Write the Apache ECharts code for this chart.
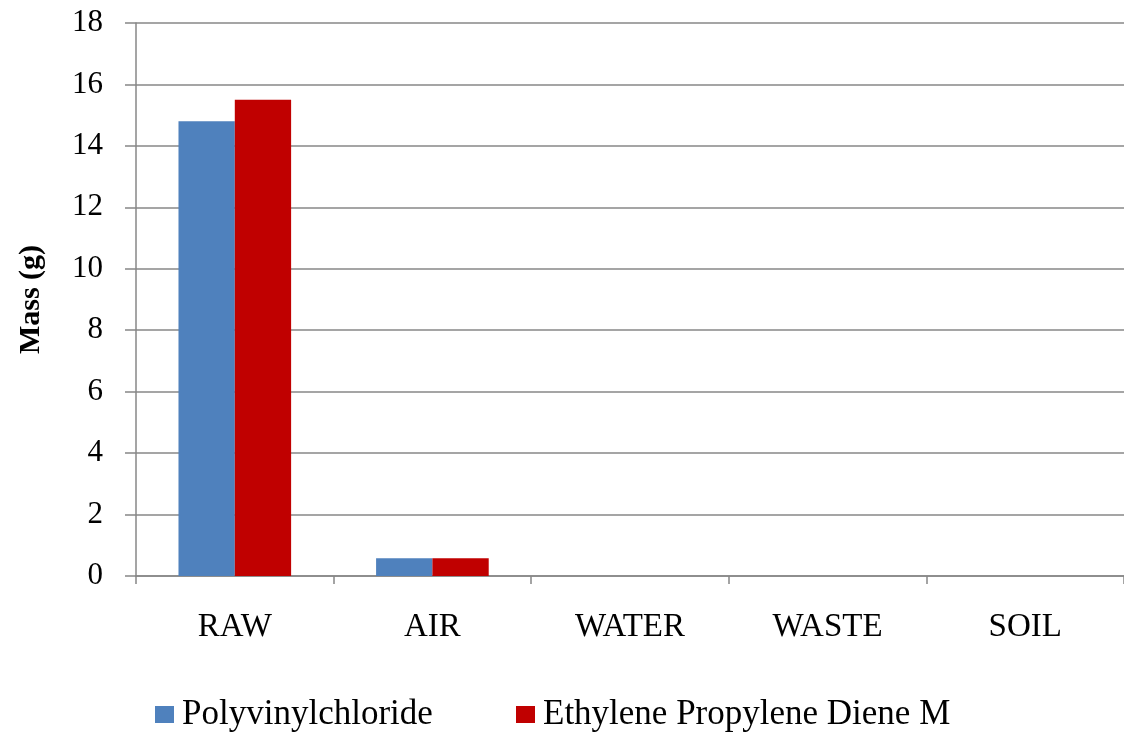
<!DOCTYPE html>
<html><head><meta charset="utf-8">
<script src="https://cdn.jsdelivr.net/npm/echarts@6/dist/echarts.min.js"></script>
<style>html,body{margin:0;padding:0;background:#fff}#c{width:1124px;height:734px}</style>
</head><body><div id="c"></div>
<script>
const categories = ['RAW', 'AIR', 'WATER', 'WASTE', 'SOIL'];
const pvc = [14.8, 0.58, 0, 0, 0];
const epdm = [15.5, 0.58, 0, 0, 0];
const seriesNames = ['Polyvinylchloride', 'Ethylene Propylene Diene M'];
const yTicks = { min: 0, max: 18, interval: 2 };

const font = 'Liberation Serif, Times New Roman, serif';
const legendBase = {
  top: 697, padding: 0, itemWidth: 19, itemHeight: 17, icon: 'rect',
  textStyle: { fontFamily: font, fontSize: 35, color: '#000', padding: [0, 0, 0, 3] }
};
const chart = echarts.init(document.getElementById('c'));
chart.setOption({
  animation: false,
  grid: { left: 136, right: 0, top: 23, bottom: 158, containLabel: false },
  legend: [
    Object.assign({ left: 155, data: [seriesNames[0]] }, legendBase),
    Object.assign({ left: 516, data: [seriesNames[1]] }, legendBase)
  ],
  xAxis: {
    type: 'category', data: categories,
    axisLine: { lineStyle: { color: '#878787', width: 1.5 } },
    axisTick: { show: true, length: 8, lineStyle: { color: '#878787', width: 1.5 } },
    axisLabel: { fontFamily: font, fontSize: 33, color: '#000', margin: 35 }
  },
  yAxis: {
    type: 'value', min: yTicks.min, max: yTicks.max, interval: yTicks.interval,
    name: 'Mass (g)', nameLocation: 'middle', nameGap: 90, nameRotate: 90,
    nameTextStyle: { fontFamily: font, fontSize: 30, fontWeight: 'bold', color: '#000' },
    axisLine: { show: true, lineStyle: { color: '#878787', width: 1.5 } },
    axisTick: { show: true, inside: false, length: 11, lineStyle: { color: '#878787', width: 1.5 } },
    splitLine: { lineStyle: { color: '#878787', width: 1.5 } },
    axisLabel: { fontFamily: font, fontSize: 31, color: '#000', margin: 33 }
  },
  series: [
    { name: seriesNames[0], type: 'bar', data: pvc, barGap: '0%', barCategoryGap: '43%', itemStyle: { color: '#4F81BD' } },
    { name: seriesNames[1], type: 'bar', data: epdm, barGap: '0%', barCategoryGap: '43%', itemStyle: { color: '#C00000' } }
  ]
});
</script></body></html>
